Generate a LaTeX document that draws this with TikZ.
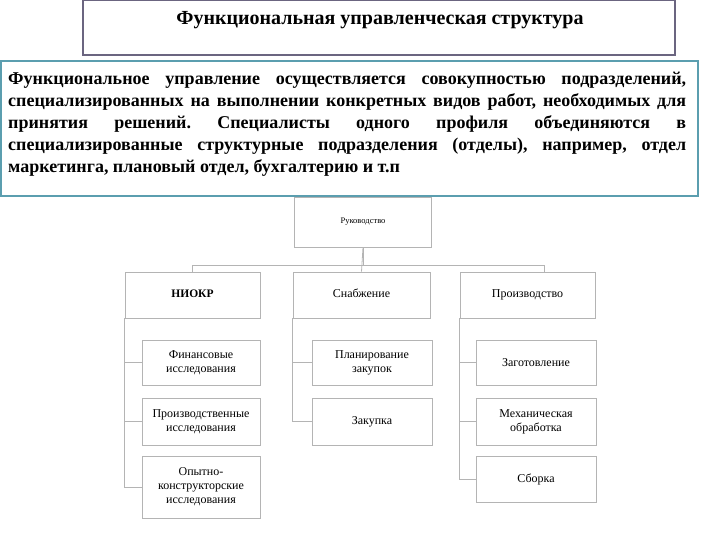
\documentclass[tikz,border=0pt]{standalone}
\usepackage{fontspec}
\setmainfont{Liberation Serif}
\usepackage{xcolor}
\usepackage{tikz}
\usetikzlibrary{positioning,calc}
\definecolor{FRMpurple}{HTML}{6B6580}
\definecolor{FRMteal}{HTML}{5B9EAF}
\definecolor{ORGgray}{HTML}{B4B4B4}
\hyphenpenalty=10000
\frenchspacing

\begin{document}
\begin{tikzpicture}[x=1bp, y=-1bp]

%% ── helpers ───────────────────────────────────────────────
\tikzset{
  orgbox/.style={rectangle,draw=ORGgray,fill=white,line width=0.8pt,
                 align=center,inner sep=2pt,font=\fontsize{12bp}{14bp}\selectfont},
  dept/.style={orgbox,minimum height=46bp,text height=8bp,text depth=2.5bp},
  link/.style={draw=ORGgray,line width=0.8pt},
  frame/.style={line width=2.2pt,draw=#1},
}

\useasboundingbox (0,0) rectangle (720,540);

%% ── TITLE ─────────────────────────────────────────────────
\draw[frame=FRMpurple,fill=white] (83,0) rectangle (675,55);
\node[font=\fontsize{20bp}{23bp}\selectfont\bfseries] (title) at (380,20)
  {Функциональная управленческая структура};

%% ── DESCRIPTION ───────────────────────────────────────────
\draw[frame=FRMteal,fill=white] (1,61) rectangle (698,196);
\node[anchor=north west,text width=678bp,align=justify,inner sep=0pt,
      font=\fontsize{18bp}{22bp}\selectfont\bfseries] (descr) at (8,72)
  {Функциональное управление осуществляется совокупностью подразделений,\linebreak
   специализированных на выполнении конкретных видов работ, необходимых для\linebreak
   принятия решений. Специалисты одного профиля объединяются в\linebreak
   специализированные структурные подразделения (отделы), например, отдел\linebreak
   маркетинга, плановый отдел, бухгалтерию и т.п};

%% ── TOP LEVEL ─────────────────────────────────────────────
\node[orgbox,minimum width=137bp,minimum height=50bp,
      font=\fontsize{8.5bp}{10bp}\selectfont] (ruk) at (363,222) {Руководство};

%% ── DEPARTMENTS (y=295) ──────────────────────────────────
\node[dept,minimum width=135bp,
      font=\fontsize{11.5bp}{13bp}\selectfont\bfseries] (niokr) at (192.5,295) {НИОКР};
\node[dept,minimum width=137bp] (snab) at (361.5,295) {Снабжение};
\node[dept,minimum width=135bp] (prod) at (527.5,295) {Производство};

\draw[link] (ruk.south) -- (snab.north);
\draw[link] (ruk.south) -- ++(0,18) -| (niokr.north);
\draw[link] (ruk.south) -- ++(0,18) -| ([xshift=17bp]prod.north);

%% ── НИОКР units (x=201) ──
\node[orgbox,minimum width=118bp,minimum height=45bp] (fin)   at (201,362.5) {Финансовые\\исследования};
\node[orgbox,minimum width=118bp,minimum height=47bp] (proiz) at (201,421.5) {Производственные\\исследования};
\node[orgbox,minimum width=118bp,minimum height=62bp] (opyt)  at (201,487)   {Опытно-\\конструкторские\\исследования};

\foreach \unit in {fin,proiz,opyt}
  \draw[link] (niokr.south west) |- (\unit.west);

%% ── Снабжение units (x=372) ──
\node[orgbox,minimum width=120bp,minimum height=45bp] (plan) at (372,362.5) {Планирование\\закупок};
\node[orgbox,minimum width=120bp,minimum height=47bp] (zak)  at (372,421.5) {Закупка};

\foreach \unit in {plan,zak}
  \draw[link] (snab.south west) |- (\unit.west);

%% ── Производство units (x=536) ──
\node[orgbox,minimum width=120bp,minimum height=45bp] (zag)  at (536,362.5) {Заготовление};
\node[orgbox,minimum width=120bp,minimum height=47bp] (mech) at (536,421.5) {Механическая\\обработка};
\node[orgbox,minimum width=120bp,minimum height=46bp] (sbor) at (536,479)   {Сборка};

\foreach \unit in {zag,mech,sbor}
  \draw[link] (prod.south west) |- (\unit.west);

\end{tikzpicture}
\end{document}
